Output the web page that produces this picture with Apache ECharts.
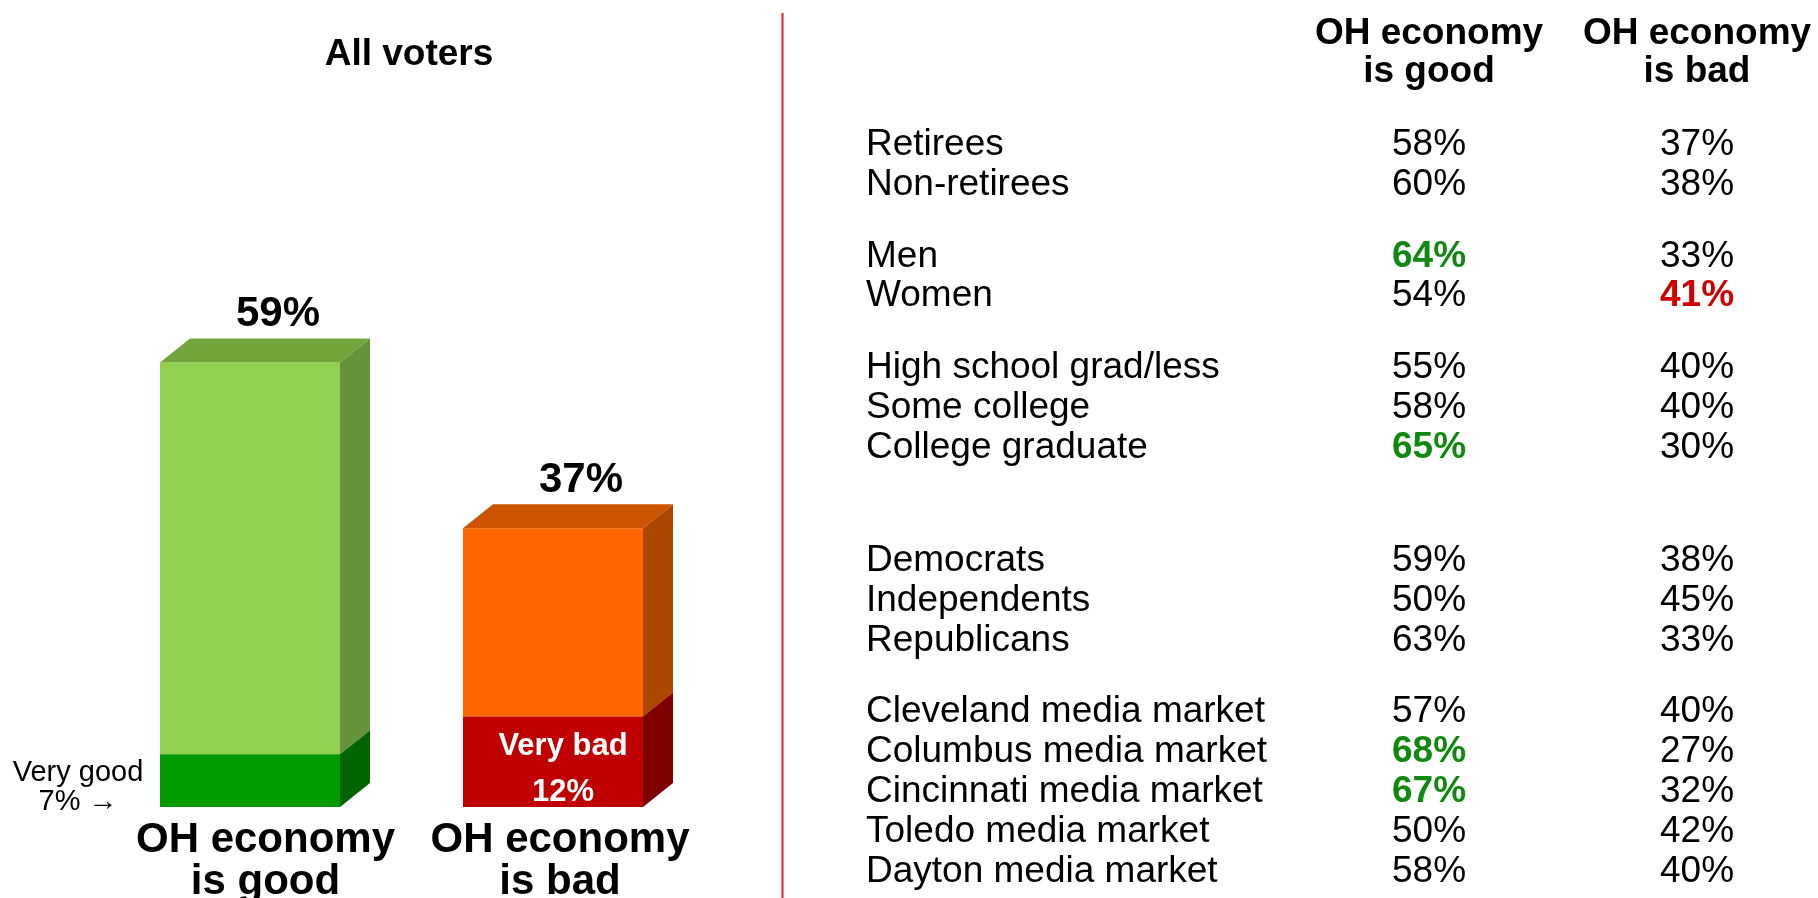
<!DOCTYPE html>
<html>
<head>
<meta charset="utf-8">
<title>Ohio economy</title>
<script src="https://cdn.jsdelivr.net/npm/echarts@6/dist/echarts.min.js"></script>
<style>
  html, body { margin: 0; padding: 0; background: #fff; }
  #chart { width: 1818px; height: 898px; }
</style>
</head>
<body>
<div id="chart"></div>
<script>
// ---- data ----
const panelTitle = 'All voters';
const barCategories = ['OH economy\nis good', 'OH economy\nis bad'];
const overallPct = [59, 37];
const intensePct = [7, 12];
const intenseNames = ['Very good', 'Very bad'];

const columnHeaders = ['OH economy\nis good', 'OH economy\nis bad'];
const rowNames = [
  'Retirees', 'Non-retirees',
  'Men', 'Women',
  'High school grad/less', 'Some college', 'College graduate',
  'Democrats', 'Independents', 'Republicans',
  'Cleveland media market', 'Columbus media market', 'Cincinnati media market',
  'Toledo media market', 'Dayton media market'
];
const goodPct = [58, 60, 64, 54, 55, 58, 65, 59, 50, 63, 57, 68, 67, 50, 58];
const badPct  = [37, 38, 33, 41, 40, 40, 30, 38, 45, 33, 40, 27, 32, 42, 40];
const groupSizes = [2, 2, 3, 3, 5];
const goodHighlight = ['Men', 'College graduate', 'Columbus media market', 'Cincinnati media market'];
const badHighlight = ['Women'];

// ---- styling / layout ----
const FONT = "'Liberation Sans', Arial, Helvetica, sans-serif";
const barPalette = [
  { front: '#92d050', top: '#74a43c', side: '#66923a', frontDark: '#009a00', sideDark: '#006400' },
  { front: '#ff6600', top: '#cc5300', side: '#ad4700', frontDark: '#c00000', sideDark: '#7e0000' }
];
const DEPTH_X = 30, DEPTH_Y = 24;
const categoryLabelShift = [31, 14];          // left padding of the category captions
const groupGap = [0, 0.8, 0.8, 1.85, 0.8];   // extra space (in rows) before each group
const labelColumnX = 866;
const goodColor = '#118811', badColor = '#d00000';

// row positions along the table's vertical axis
const rowPos = [];
{
  let idx = 0, offset = 0;
  groupSizes.forEach((n, g) => {
    offset += groupGap[g];
    for (let k = 0; k < n; k++) { rowPos.push(idx + offset); idx++; }
  });
}

function textStyle(extra) {
  return Object.assign({ fontFamily: FONT, fill: '#000', align: 'center', verticalAlign: 'middle',
                         textAlign: 'center', textVerticalAlign: 'middle' }, extra);
}

function renderBox(params, api) {
  const i = api.value(0), total = api.value(1), intense = api.value(2);
  const pal = barPalette[i];
  const top = api.coord([i, total]);
  const base = api.coord([i, 0]);
  const mid = api.coord([i, intense]);
  const w = api.size([1, 0])[0] * 0.594;
  const cx = top[0];
  const x0 = cx - w / 2, x1 = cx + w / 2;
  const yT = top[1], yB = base[1], yM = mid[1];
  const dx = DEPTH_X, dy = DEPTH_Y;
  const children = [
    { type: 'rect', shape: { x: x0, y: yT, width: w, height: yM - yT }, style: { fill: pal.front } },
    { type: 'rect', shape: { x: x0, y: yM, width: w, height: yB - yM }, style: { fill: pal.frontDark } },
    { type: 'polygon', shape: { points: [[x1, yT], [x1 + dx, yT - dy], [x1 + dx, yM - dy], [x1, yM]] }, style: { fill: pal.side } },
    { type: 'polygon', shape: { points: [[x1, yM], [x1 + dx, yM - dy], [x1 + dx, yB - dy], [x1, yB]] }, style: { fill: pal.sideDark } },
    { type: 'polygon', shape: { points: [[x0, yT], [x0 + dx, yT - dy], [x1 + dx, yT - dy], [x1, yT]] }, style: { fill: pal.top } },
    { type: 'text', x: cx + 28, y: yT - 48,
      style: textStyle({ text: total + '%', fontSize: 42, fontWeight: 'bold' }) }
  ];
  const bandMid = (yM + yB) / 2;
  if (i === 0) {
    children.push({ type: 'text', x: x0 - 82, y: bandMid + 7,
      style: textStyle({ text: intenseNames[i] + '\n' + intense + '% \u2192', fontSize: 29, lineHeight: 29 }) });
  } else {
    children.push({ type: 'text', x: cx + 10, y: bandMid + 7.5,
      style: textStyle({ text: intenseNames[i] + '\n' + intense + '%', fill: '#fff', fontSize: 31,
                         lineHeight: 46, fontWeight: 'bold' }) });
  }
  return { type: 'group', children };
}

function renderRowName(params, api) {
  const y = api.coord([0, api.value(0)])[1];
  return { type: 'text', x: labelColumnX, y: y,
    style: textStyle({ text: rowNames[params.dataIndex], fontSize: 37, align: 'left', textAlign: 'left' }) };
}

function cellData(values, col, highlight, color) {
  return values.map((v, r) => {
    const hi = highlight.includes(rowNames[r]);
    return {
      value: [col, rowPos[r]],
      label: { formatter: v + '%', color: hi ? color : '#000', fontWeight: hi ? 'bold' : 'normal' }
    };
  });
}

const cellLabel = { show: true, position: 'inside', fontSize: 37, fontFamily: FONT, color: '#000', opacity: 1 };

const chart = echarts.init(document.getElementById('chart'), null, { renderer: 'canvas' });
chart.setOption({
  animation: false,
  backgroundColor: '#ffffff',
  textStyle: { fontFamily: FONT },
  grid: [
    { left: 98.5, width: 606, top: 355, height: 452, containLabel: false, outerBoundsMode: 'none' },
    { left: 1429, width: 268, top: 105.2, height: 796, containLabel: false, outerBoundsMode: 'none' }
  ],
  xAxis: [
    { gridIndex: 0, type: 'category',
      data: barCategories.map((c, i) => ({ value: c, textStyle: { padding: [0, 0, 0, categoryLabelShift[i]] } })),
      axisLine: { show: false }, axisTick: { show: false }, splitLine: { show: false },
      axisLabel: { interval: 0, fontSize: 42, fontWeight: 'bold', lineHeight: 42, margin: 12.5,
                   color: '#000', fontFamily: FONT } },
    { gridIndex: 1, type: 'category', position: 'top', boundaryGap: false, data: columnHeaders,
      axisLine: { show: false }, axisTick: { show: false }, splitLine: { show: false },
      axisLabel: { interval: 0, fontSize: 37, fontWeight: 'bold', lineHeight: 38, margin: 14,
                   color: '#000', fontFamily: FONT } }
  ],
  yAxis: [
    { gridIndex: 0, type: 'value', min: 0, max: 60, show: false },
    { gridIndex: 1, type: 'value', min: -1, max: 19, inverse: true, show: false }
  ],
  graphic: [
    { type: 'text', x: 409, y: 55,
      style: textStyle({ text: panelTitle, fontSize: 37, fontWeight: 'bold' }) },
    { type: 'line', shape: { x1: 782.5, y1: 13, x2: 782.5, y2: 898 }, style: { stroke: '#e3202a', lineWidth: 2 } }
  ],
  series: [
    { type: 'custom', xAxisIndex: 0, yAxisIndex: 0, renderItem: renderBox,
      data: overallPct.map((v, i) => [i, v, intensePct[i]]) },
    { type: 'custom', xAxisIndex: 1, yAxisIndex: 1, renderItem: renderRowName,
      data: rowPos.map(p => [p]), encode: { y: 0 } },
    { type: 'scatter', xAxisIndex: 1, yAxisIndex: 1, symbolSize: 0, itemStyle: { opacity: 1 }, label: cellLabel,
      data: cellData(goodPct, 0, goodHighlight, goodColor) },
    { type: 'scatter', xAxisIndex: 1, yAxisIndex: 1, symbolSize: 0, itemStyle: { opacity: 1 }, label: cellLabel,
      data: cellData(badPct, 1, badHighlight, badColor) }
  ]
});
</script>
</body>
</html>
